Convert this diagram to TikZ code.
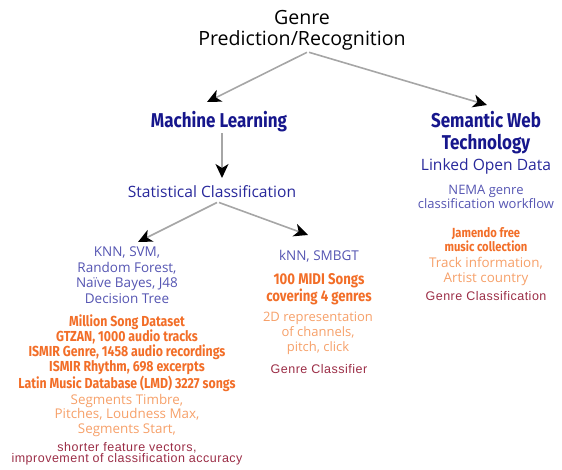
\documentclass[tikz,border=0pt]{standalone}
\usepackage{fontspec}
\setmainfont{Open Sans}
\newfontfamily\condfont[FakeStretch=0.85]{Fira Sans}
\newfontfamily\arialfont[LetterSpace=4]{Liberation Sans}
\usetikzlibrary{arrows.meta,positioning}
\definecolor{headblue}{RGB}{22,22,140}
\definecolor{subblue}{RGB}{40,40,155}
\definecolor{methblue}{RGB}{85,85,178}
\definecolor{dataorange}{RGB}{242,110,40}
\definecolor{featorange}{RGB}{246,160,105}
\definecolor{resred}{RGB}{155,45,70}
\begin{document}
\begin{tikzpicture}[x=1pt, y=-1pt,
                every node/.style={inner sep=0pt, anchor=north, align=center},
                arr/.style={draw=black!35, line width=1.6pt, -{Stealth[length=14pt, width=13pt, inset=4pt, black]}},
                top/.style={font=\fontsize{19.6}{21}\selectfont},
                head/.style={text=headblue, font=\condfont\bfseries\fontsize{20}{22}\selectfont},
                sub/.style={text=subblue, font=\fontsize{15.6}{18}\selectfont},
                meth/.style={text=methblue, font=\fontsize{13.5}{15.5}\selectfont},
                data/.style={text=dataorange, font=\condfont\bfseries\fontsize{14.5}{15}\selectfont},
                feat/.style={text=featorange, font=\fontsize{13.4}{14.5}\selectfont},
                res/.style={text=resred, font=\arialfont\fontsize{12.5}{11}\selectfont}]
                \useasboundingbox (0,0) rectangle (562,470);

                \node[top] (genre) at (302,10) {Genre\\Prediction/Recognition};
                \node[head] (ml) at (219,111) {Machine Learning};
                \node[head] (swt) at (486,111) {Semantic Web\\Technology};
                \node[sub] (sc) at (212,185) {Statistical Classification};
                \node[sub] (lod) at (486,158) {Linked Open Data};
                \node[meth, font=\fontsize{13}{14}\selectfont] (nema) at (486,185) {NEMA genre\\classification workflow};

                \node[meth] (knn) at (127,247) {KNN, SVM,\\Random Forest,\\Na\"ive Bayes, J48\\Decision Tree};
                \node[data] (msd) at (127,315) {Million Song Dataset\\GTZAN, 1000 audio tracks\\ISMIR Genre, 1458 audio recordings\\ISMIR Rhythm, 698 excerpts\\Latin Music Database (LMD) 3227 songs};
                \node[feat] (seg) at (127,394) {Segments Timbre,\\Pitches, Loudness Max,\\Segments Start,};
                \node[res] (acc) at (127,442) {shorter feature vectors,\\improvement of classification accuracy};

                \node[meth] (smbgt) at (319,250) {kNN, SMBGT};
                \node[data, font=\condfont\bfseries\fontsize{15.5}{14.5}\selectfont] (midi) at (319,273) {100 MIDI Songs\\covering 4 genres};
                \node[feat, font=\fontsize{13}{15}\selectfont] (rep) at (318,312) {2D representation\\of channels,\\pitch, click};
                \node[res] (gcl) at (319,364) {Genre Classifier};

                \node[data, font=\condfont\bfseries\fontsize{13.2}{14}\selectfont] (jam) at (486,227) {Jamendo free\\music collection};
                \node[feat, font=\fontsize{13.4}{15}\selectfont] (track) at (486,257) {Track information,\\Artist country};
                \node[res] (gcn) at (486,291) {Genre Classification};

                \draw[arr] ([xshift=5pt, yshift=-2pt]genre.south) -- ([xshift=-12pt, yshift=9pt]ml.north);
                \draw[arr] ([xshift=7pt, yshift=-2pt]genre.south) -- ([xshift=1pt, yshift=6pt]swt.north);
                \draw[arr] ([xshift=3pt, yshift=-1pt]ml.south) -- ([xshift=10pt, yshift=7pt]sc.north);
                \draw[arr] ([xshift=5pt, yshift=-5pt]sc.south) -- ([xshift=11pt, yshift=5pt]knn.north);
                \draw[arr] ([xshift=7pt, yshift=-5pt]sc.south) -- ([xshift=-11pt, yshift=15pt]smbgt.north);
            \end{tikzpicture}
\end{document}
